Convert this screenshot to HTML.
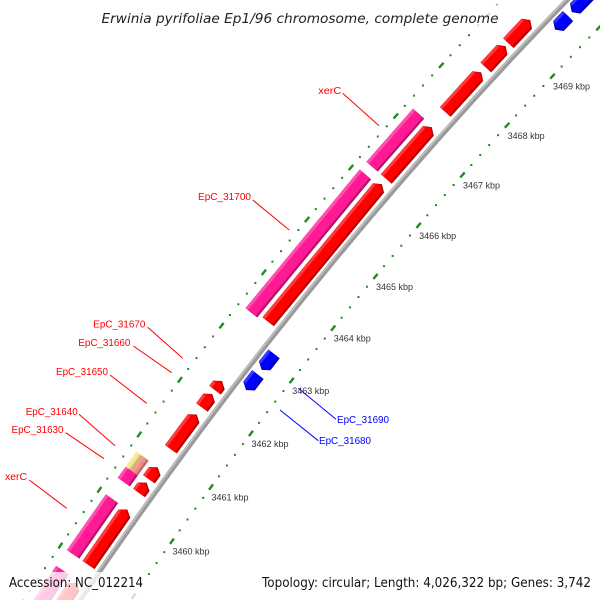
<!DOCTYPE html>
<html><head><meta charset="utf-8"><title>Erwinia pyrifoliae genome map</title>
<style>html,body{margin:0;padding:0;background:#fff;width:600px;height:600px;overflow:hidden}svg{display:block;overflow:hidden}</style></head>
<body>
<svg id="map" width="600" height="600" viewBox="0 0 600 600" xmlns="http://www.w3.org/2000/svg">
  <rect x="0" y="0" width="600" height="600" fill="#fff"/>
  <g id="rulers"></g>
  <g id="backbone"></g>
  <g id="features"></g>
  <g id="labels" font-family="'Liberation Sans', sans-serif" font-size="10"></g>
  <g>
    <rect x="97" y="5" width="406" height="22" fill="#fff" fill-opacity="0.78"/>
    <text x="101.5" y="23" font-family="'DejaVu Sans', sans-serif" font-style="italic" font-size="13" fill="#222" textLength="397" lengthAdjust="spacingAndGlyphs">Erwinia pyrifoliae Ep1/96 chromosome, complete genome</text>
  </g>
  <g>
    <rect x="4" y="572" width="144" height="28" fill="#fff" fill-opacity="0.78"/>
    <text x="9" y="587" font-family="'DejaVu Sans', sans-serif" font-size="13" fill="#111" textLength="134" lengthAdjust="spacingAndGlyphs">Accession: NC_012214</text>
  </g>
  <g>
    <rect x="257" y="572" width="340" height="28" fill="#fff" fill-opacity="0.78"/>
    <text x="262" y="587" font-family="'DejaVu Sans', sans-serif" font-size="13" fill="#111" textLength="329" lengthAdjust="spacingAndGlyphs">Topology: circular; Length: 4,026,322 bp; Genes: 3,742</text>
  </g>
</svg>
<script>
// ---- data (kbp) ----
const majorTicks = [3457,3458,3459,3460,3461,3462,3463,3464,3465,3466,3467,3468,3469,3470];
const labelledTicks = [3460,3461,3462,3463,3464,3465,3466,3467,3468,3469];
const redStart = [3457.5,3459.0,3460.30,3460.55,3461.10,3461.87,3462.19,3463.47,3466.21,3467.53,3468.42,3468.91];
const redEnd   = [3458.68,3460.0,3460.49,3460.77,3461.74,3462.12,3462.36,3466.11,3467.23,3468.32,3468.85,3469.38];
const pinkStart = [3457.5,3459.0,3460.30,3463.42,3466.21];
const pinkEnd   = [3458.72,3460.0,3460.50,3466.06,3467.25];
const yellowStart = [3460.50];
const yellowEnd = [3460.77];
const salmonStart = [3460.50];
const salmonEnd = [3460.77];
const blueStart = [3462.47,3462.85,3469.53,3469.89];
const blueEnd   = [3462.76,3463.15,3469.81,3470.40];

// ---- axis (circular map zoomed) ----
const CX = 3744, CY = 3076;
const REF_K = 3460, REF_ANG = -144.64, DEG_PER_KBP = 0.874;
const R_BACK = 4422, R_RULER_IN = 4380, R_RULER_OUT = 4469;
const KBP_PX = 66.7;
function ang(k){ return (REF_ANG + (k-REF_K)*DEG_PER_KBP) * Math.PI/180; }
function P(k,r){ const a=ang(k); return [CX + r*Math.cos(a), CY + r*Math.sin(a)]; }
function pts(list){ return list.map(p=>p[0].toFixed(2)+','+p[1].toFixed(2)).join(' '); }
const NS='http://www.w3.org/2000/svg';
function mk(tag, parent){ const e=document.createElementNS(NS,tag); parent.appendChild(e); return e; }

// ---- rulers ----
const rulers = document.getElementById('rulers');
const GREEN = '#1e8c1e';
[R_RULER_IN, R_RULER_OUT].forEach(function(r){
  for (let i=0;i<=70;i++){
    const k = 3457 + i*0.2;
    if (Math.abs(k-Math.round(k))<1e-6) continue;
    const p = P(k,r);
    const d = mk('rect', rulers);
    
    
    d.setAttribute('x', (p[0]-1).toFixed(2)); d.setAttribute('y', (p[1]-1).toFixed(2));
    d.setAttribute('width', '2'); d.setAttribute('height', '2'); d.setAttribute('fill', GREEN);
  }
  majorTicks.forEach(function(k){
    const a = P(k-0.05,r), b = P(k+0.05,r);
    const l = mk('line', rulers);
    
    
    l.setAttribute('x1',a[0]); l.setAttribute('y1',a[1]); l.setAttribute('x2',b[0]); l.setAttribute('y2',b[1]);
    l.setAttribute('stroke', GREEN); l.setAttribute('stroke-width','2.4');
  });
});
labelledTicks.forEach(function(k){
  const p = P(k,R_RULER_IN);
  const t = mk('text', rulers);
  
  
  t.setAttribute('x', (p[0]+0.5).toFixed(1)); t.setAttribute('y', (p[1]+13.5).toFixed(1));
  t.setAttribute('font-family', "'Liberation Sans', sans-serif");
  t.setAttribute('font-size', '9'); t.setAttribute('fill', '#333');
  t.textContent = k + ' kbp';
});

// ---- backbone ----
const bb = document.getElementById('backbone');
function arcPath(r){
  let d=''; for (let i=0;i<=20;i++){ const k=3456+i*0.8; const p=P(k,r); d+=(i?'L':'M')+p[0].toFixed(2)+' '+p[1].toFixed(2); } return d;
}
const bbMain = mk('path', bb);


bbMain.setAttribute('d', arcPath(R_BACK)); bbMain.setAttribute('stroke','#9a9a9a'); bbMain.setAttribute('stroke-width','5'); bbMain.setAttribute('fill','none');
const bbHi = mk('path', bb);


bbHi.setAttribute('d', arcPath(R_BACK+1.3)); bbHi.setAttribute('stroke','#c4c4c4'); bbHi.setAttribute('stroke-width','1.4'); bbHi.setAttribute('fill','none');

// ---- features ----
const fg = document.getElementById('features');
const HEAD = 5/KBP_PX;
function feature(k1,k2,r1,r2,dir,fill,hi,shadow,name){
  const g = mk('g', fg);
  
  
  const rm=(r1+r2)/2;
  let poly;
  if (dir>0){ const kh=Math.max(k1,k2-HEAD); poly=[P(k1,r1),P(kh,r1),P(k2,rm),P(kh,r2),P(k1,r2)]; }
  else if (dir<0){ const kh=Math.min(k2,k1+HEAD); poly=[P(k1,rm),P(kh,r1),P(k2,r1),P(k2,r2),P(kh,r2)]; }
  else { poly=[P(k1,r1),P(k2,r1),P(k2,r2),P(k1,r2)]; }
  const base = mk('polygon', g);
  base.setAttribute('points', pts(poly)); base.setAttribute('fill', shadow);
  const r1b = r1+2.2;
  let body;
  if (dir>0){ const kh=Math.max(k1,k2-HEAD); body=[P(k1,r1b),P(kh,r1b),P(k2-0.02,rm+0.6),P(kh,r2),P(k1,r2)]; }
  else if (dir<0){ const kh=Math.min(k2,k1+HEAD); body=[P(k1+0.02,rm+0.6),P(kh,r1b),P(k2,r1b),P(k2,r2),P(kh,r2)]; }
  else { body=[P(k1,r1b),P(k2,r1b),P(k2,r2),P(k1,r2)]; }
  const b = mk('polygon', g);
  b.setAttribute('points', pts(body)); b.setAttribute('fill', fill);
  const rh = r2-3;
  let hl;
  if (dir>0){ const kh=Math.max(k1,k2-HEAD); hl=[P(k1,rh),P(kh,rh),P(kh,r2),P(k1,r2)]; }
  else if (dir<0){ const kh=Math.min(k2,k1+HEAD); hl=[P(kh,rh),P(k2,rh),P(k2,r2),P(kh,r2)]; }
  else { hl=[P(k1,rh),P(k2,rh),P(k2,r2),P(k1,r2)]; }
  const h = mk('polygon', g);
  h.setAttribute('points', pts(hl)); h.setAttribute('fill', hi);
}
for (let i=0;i<pinkStart.length;i++) feature(pinkStart[i],pinkEnd[i],4446,4461,0,'#ff1a94','#ff4fb0','#b3126e','gene-feature');
for (let i=0;i<yellowStart.length;i++) feature(yellowStart[i],yellowEnd[i],4454,4461,0,'#eee08c','#f5ec9e','#c9bb6a','misc-feature');
for (let i=0;i<salmonStart.length;i++) feature(salmonStart[i],salmonEnd[i],4446,4454,0,'#ec8a84','#f29c96','#c06a64','misc-feature-2');
for (let i=0;i<redStart.length;i++) feature(redStart[i],redEnd[i],4427.5,4442,1,'#ff0000','#ff3a3a','#b80000','forward-cds');
for (let i=0;i<blueStart.length;i++) feature(blueStart[i],blueEnd[i],4403,4417.5,-1,'#0000ff','#3838ff','#0000a8','reverse-cds');

// ---- labels ----
const lg = document.getElementById('labels');
function label(text,tx,ty,x1,y1,x2,y2,color,w){
  const l = mk('line', lg);
  
  
  l.setAttribute('x1',x1); l.setAttribute('y1',y1); l.setAttribute('x2',x2); l.setAttribute('y2',y2);
  l.setAttribute('stroke', color); l.setAttribute('stroke-width','1');
  const t = mk('text', lg);
  
  
  t.setAttribute('x', tx); t.setAttribute('y', ty); t.setAttribute('fill', color);
  t.setAttribute('textLength', w); t.setAttribute('lengthAdjust','spacingAndGlyphs');
  t.textContent = text;
}
label('xerC', 5, 480, 29.3,480, 66.7,508.3, '#ff0000', 22);
label('EpC_31630', 11.5, 433, 65.7,432.7, 104,458.7, '#ff0000', 52);
label('EpC_31640', 25.7, 415, 79,414.3, 115,445.7, '#ff0000', 52);
label('EpC_31650', 56, 375, 110,375, 146.7,403.3, '#ff0000', 52);
label('EpC_31660', 78.3, 346, 133.3,346, 171.7,372.7, '#ff0000', 52);
label('EpC_31670', 93.3, 327.3, 147.7,327.3, 182.7,358.3, '#ff0000', 52);
label('EpC_31700', 198, 200, 252.7,200, 289.3,230, '#ff0000', 53);
label('xerC', 318.3, 94, 342.7,93.3, 379,125.7, '#ff0000', 23);
label('EpC_31690', 337, 423, 298.3,388.3, 336,419.3, '#0000ff', 52);
label('EpC_31680', 319, 444, 280,410, 318.3,440.7, '#0000ff', 52);
</script>
</body></html>
